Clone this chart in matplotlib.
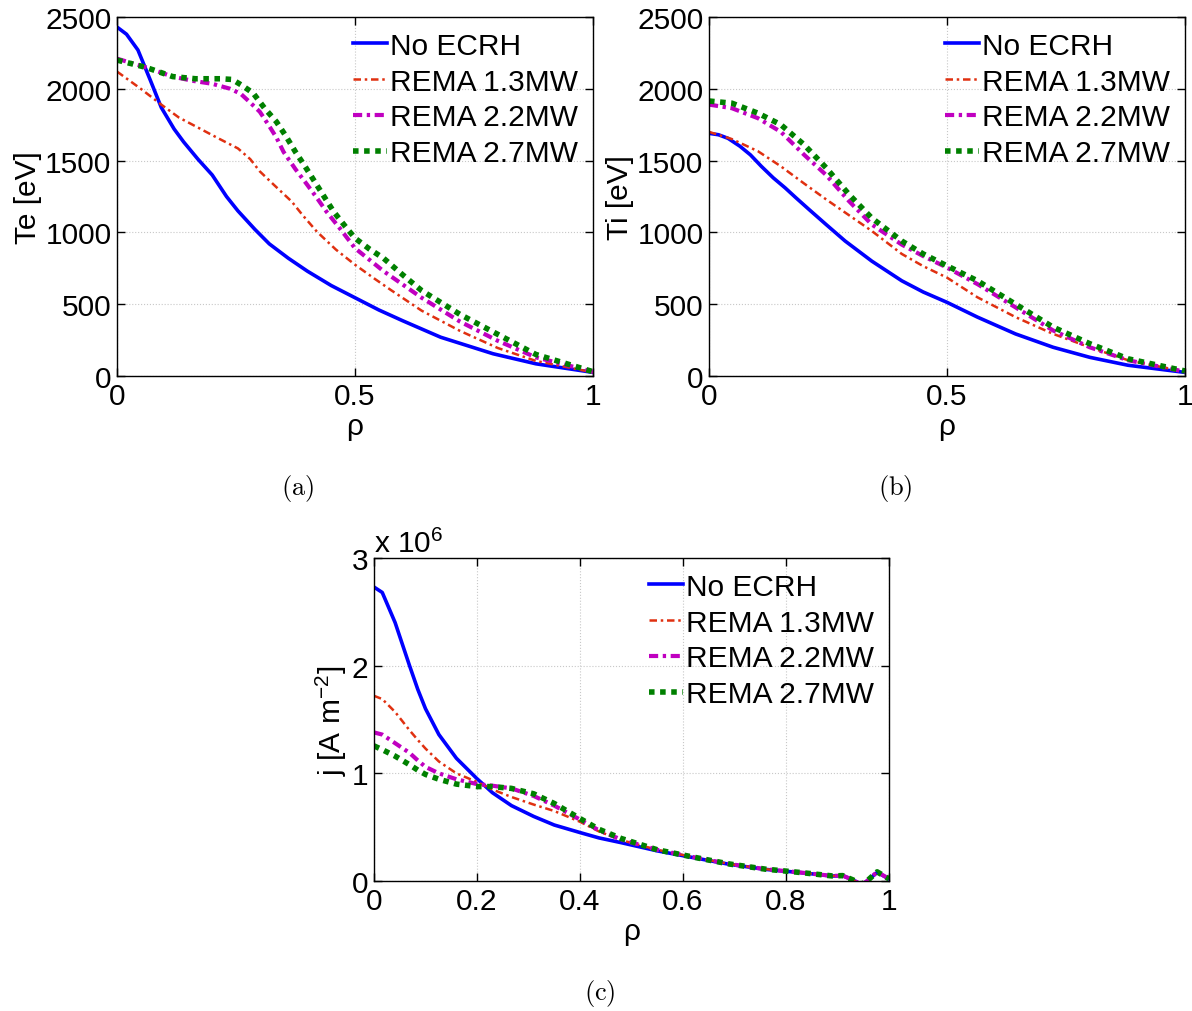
import numpy as np
import matplotlib.pyplot as plt

plt.rcParams['font.family'] = ['Liberation Sans', 'DejaVu Sans']
plt.rcParams['mathtext.fontset'] = 'custom'
plt.rcParams['mathtext.rm'] = 'Liberation Sans'

labels = ['No ECRH', 'REMA 1.3MW', 'REMA 2.2MW', 'REMA 2.7MW']

# Te profiles [eV]
rho_te = [0, 0.02, 0.044, 0.07, 0.093, 0.12, 0.14, 0.17, 0.2, 0.23, 0.254, 0.29, 0.32, 0.36,
          0.40, 0.45, 0.5, 0.55, 0.6, 0.68, 0.79, 0.88, 1.0]
te_no = [2430, 2380, 2270, 2060, 1870, 1720, 1630, 1510, 1400, 1250, 1150, 1020, 920, 820,
         730, 630, 545, 460, 385, 270, 155, 85, 25]

rho_te13 = [0, 0.05, 0.093, 0.13, 0.173, 0.21, 0.254, 0.28, 0.30, 0.33, 0.367, 0.39, 0.42, 0.46,
            0.5, 0.54, 0.577, 0.64, 0.72, 0.80, 0.88, 1.0]
te_13 = [2120, 2000, 1890, 1800, 1725, 1660, 1585, 1510, 1425, 1330, 1215, 1120, 1005, 880,
         775, 680, 595, 455, 315, 195, 105, 25]

rho_te22 = [0, 0.06, 0.117, 0.16, 0.2, 0.238, 0.26, 0.278, 0.3, 0.318, 0.335, 0.35, 0.375, 0.4,
            0.42, 0.44, 0.47, 0.5, 0.56, 0.64, 0.72, 0.8, 0.88, 1.0]
te_22 = [2210, 2150, 2085, 2055, 2035, 2000, 1965, 1910, 1840, 1750, 1660, 1560, 1440, 1330,
         1240, 1145, 1020, 890, 730, 545, 380, 245, 130, 30]

rho_te27 = [0, 0.06, 0.117, 0.165, 0.218, 0.242, 0.262, 0.286, 0.31, 0.335, 0.355, 0.375, 0.395,
            0.415, 0.435, 0.455, 0.48, 0.5, 0.53, 0.56, 0.6, 0.64, 0.72, 0.8, 0.88, 1.0]
te_27 = [2200, 2150, 2085, 2070, 2070, 2065, 2025, 1970, 1865, 1770, 1670, 1560, 1460,
         1355, 1250, 1145, 1040, 960, 885, 820, 705, 595, 430, 290, 150, 30]

# Ti profiles [eV]
rho_ti = [0, 0.02, 0.04, 0.065, 0.087, 0.11, 0.135, 0.16, 0.183, 0.21, 0.246, 0.286, 0.342,
          0.405, 0.45, 0.5, 0.564, 0.644, 0.723, 0.80, 0.88, 1.0]
ti_no = [1690, 1680, 1655, 1600, 1540, 1460, 1380, 1310, 1240, 1160, 1055, 940, 800,
         663, 585, 513, 410, 293, 200, 130, 75, 25]

rho_ti2 = [0, 0.048, 0.103, 0.151, 0.2, 0.246, 0.294, 0.342, 0.405, 0.45, 0.5, 0.564, 0.644,
           0.723, 0.80, 0.88, 1.0]
ti_13 = [1700, 1650, 1565, 1460, 1340, 1230, 1120, 1010, 850, 765, 685, 548, 410,
         293, 200, 110, 30]
ti_22 = [1890, 1865, 1795, 1700, 1540, 1400, 1218, 1055, 915, 835, 755, 640, 478,
         317, 200, 110, 30]
ti_27 = [1915, 1900, 1830, 1750, 1610, 1450, 1265, 1100, 940, 850, 767, 663, 500,
         340, 225, 120, 35]

# current density [1e6 A m^-2]
rho_j = [0, 0.016, 0.041, 0.069, 0.085, 0.1, 0.126, 0.16, 0.2, 0.23, 0.267, 0.31, 0.35, 0.40, 0.437,
         0.48, 0.55, 0.62, 0.69, 0.76, 0.83, 0.89, 0.91, 0.93, 0.945, 0.955, 0.977, 1.0]
j_no = [2.73, 2.68, 2.40, 2.0, 1.78, 1.6, 1.36, 1.14, 0.95, 0.82, 0.70, 0.60, 0.52, 0.45, 0.40,
        0.356, 0.28, 0.217, 0.155, 0.108, 0.077, 0.046, 0.05, 0.01, -0.03, -0.01, 0.08, 0.02]
j_13 = [1.72, 1.69, 1.57, 1.40, 1.31, 1.23, 1.11, 1.0, 0.92, 0.85, 0.78, 0.71, 0.65, 0.55, 0.46,
        0.38, 0.29, 0.222, 0.158, 0.11, 0.078, 0.047, 0.05, 0.01, -0.03, -0.01, 0.08, 0.02]
j_22 = [1.38, 1.36, 1.28, 1.19, 1.12, 1.06, 1.0, 0.945, 0.90, 0.885, 0.86, 0.79, 0.70, 0.57, 0.47,
        0.385, 0.29, 0.222, 0.158, 0.11, 0.078, 0.047, 0.05, 0.01, -0.03, -0.01, 0.085, 0.02]
j_27 = [1.255, 1.22, 1.16, 1.08, 1.03, 0.99, 0.945, 0.90, 0.877, 0.877, 0.86, 0.81, 0.72, 0.58, 0.48,
        0.395, 0.29, 0.222, 0.158, 0.11, 0.078, 0.047, 0.05, 0.01, -0.03, -0.01, 0.085, 0.02]

FS = 21.5


def style(ax, lines, ylabel):
    styles = [dict(color='#0000ff', ls='-', lw=2.6),
              dict(color='#e03010', ls=(0, (3, 1.5, 1, 1.5)), lw=1.8),
              dict(color='#c000c0', ls=(0, (2.2, 1.1, 0.8, 1.1)), lw=3.0),
              dict(color='#008000', ls=(0, (1, 1)), lw=4.0)]
    for (x, y), st, lab in zip(lines, styles, labels):
        ax.plot(x, y, label=lab, dash_capstyle='butt', **st)
    ax.set_xlim(0, 1)
    ax.grid(True, ls=':', color='#c8c8c8', lw=0.8)
    ax.tick_params(direction='in', top=True, right=True, length=6, width=1,
                   labelsize=FS, pad=4)
    for s in ax.spines.values():
        s.set_linewidth(1.0)
    ax.set_xlabel('ρ', fontsize=FS, labelpad=2)
    ax.set_ylabel(ylabel, fontsize=FS, labelpad=2)
    ax.legend(loc='upper right', frameon=False, fontsize=FS, handlelength=1.15,
              handletextpad=0.1, labelspacing=0.26, borderaxespad=0.2, borderpad=0.3)


fig = plt.figure(figsize=(11.92, 10.12), dpi=100)

ax1 = fig.add_axes([117 / 1192, 1 - 377 / 1012, 476 / 1192, 359 / 1012])
style(ax1, [(rho_te, te_no), (rho_te13, te_13), (rho_te22, te_22), (rho_te27, te_27)], 'Te [eV]')
ax1.set_ylim(0, 2500)
ax1.set_xticks([0, 0.5, 1])
ax1.set_xticklabels(['0', '0.5', '1'])
ax1.set_yticks(np.arange(0, 2501, 500))

ax2 = fig.add_axes([709 / 1192, 1 - 377 / 1012, 476 / 1192, 359 / 1012])
style(ax2, [(rho_ti, ti_no), (rho_ti2, ti_13), (rho_ti2, ti_22), (rho_ti2, ti_27)], 'Ti [eV]')
ax2.set_ylim(0, 2500)
ax2.set_xticks([0, 0.5, 1])
ax2.set_xticklabels(['0', '0.5', '1'])
ax2.set_yticks(np.arange(0, 2501, 500))

ax3 = fig.add_axes([374 / 1192, 1 - 882 / 1012, 515 / 1192, 323 / 1012])
style(ax3, [(rho_j, j_no), (rho_j, j_13), (rho_j, j_22), (rho_j, j_27)], 'j [A m$^{-2}$]')
ax3.set_ylim(0, 3)
ax3.set_xticks([0, 0.2, 0.4, 0.6, 0.8, 1])
ax3.set_xticklabels(['0', '0.2', '0.4', '0.6', '0.8', '1'])
ax3.set_yticks([0, 1, 2, 3])
ax3.text(0.0, 1.0, 'x 10$^{6}$', transform=ax3.transAxes, fontsize=FS,
         ha='left', va='bottom')

cap = dict(fontsize=19, ha='center', va='center', math_fontfamily='cm')
fig.text(298 / 1192, 1 - 489 / 1012, r'$\mathrm{(a)}$', **cap)
fig.text(895 / 1192, 1 - 489 / 1012, r'$\mathrm{(b)}$', **cap)
fig.text(600 / 1192, 1 - 994 / 1012, r'$\mathrm{(c)}$', **cap)

fig.savefig('out.png', dpi=100)
